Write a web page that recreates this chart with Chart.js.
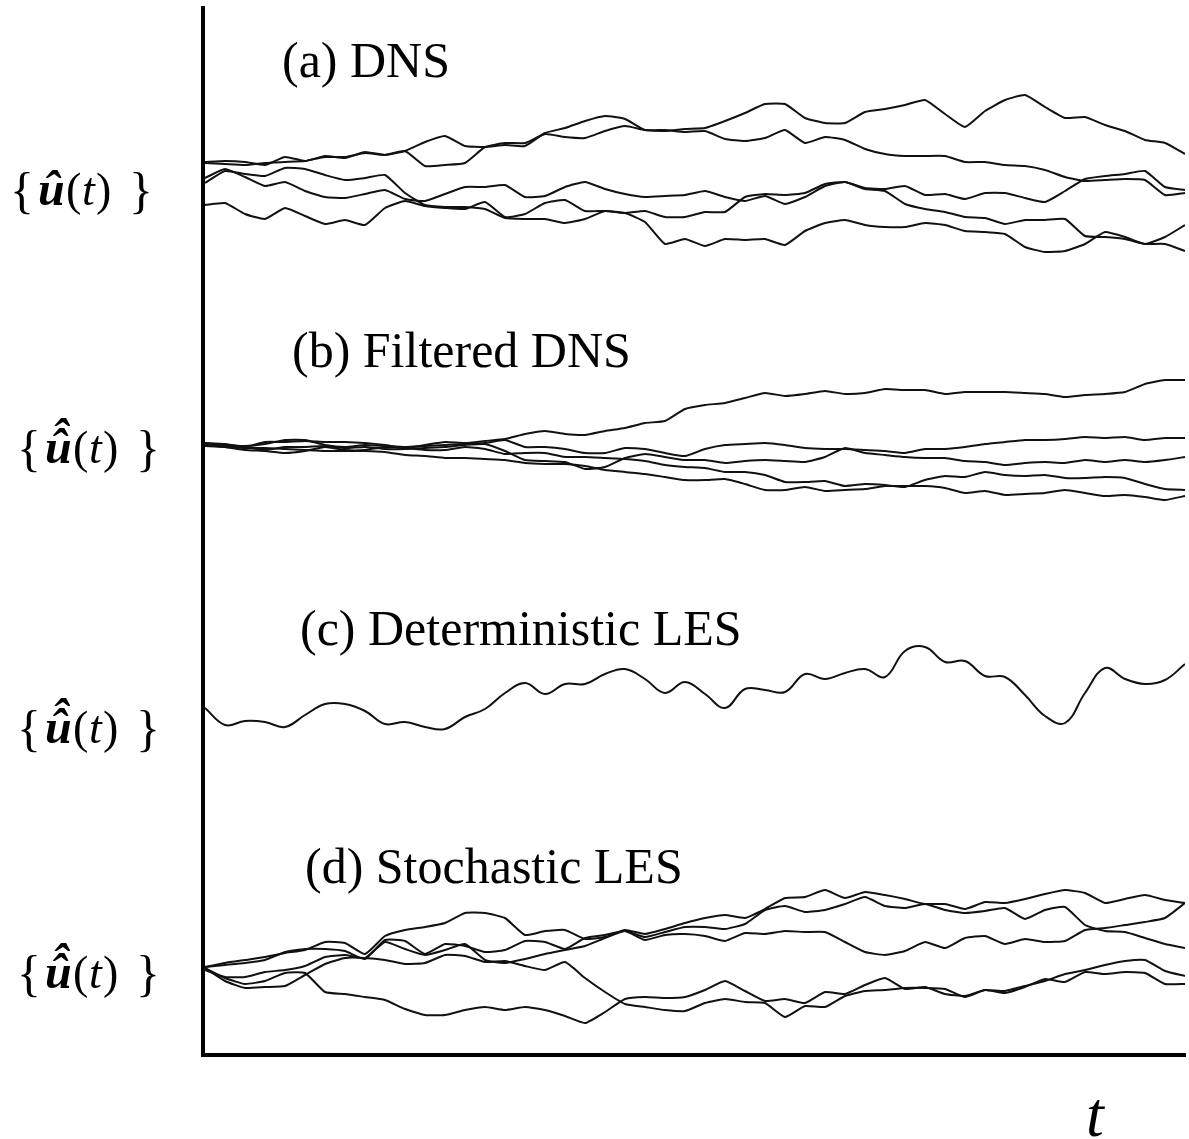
<!DOCTYPE html>
<html lang="en">
<head>
<meta charset="utf-8">
<script src="https://cdn.jsdelivr.net/npm/chart.js"></script>
<style>
    body { margin: 0; background: #ffffff; }
    #traces { display: block; }
</style>
</head>
<body>
<canvas id="traces" width="1189" height="1139"></canvas>
<script>
// sample index along t (same for every trace)
const steps = [0, 1, 2, 3, 4, 5, 6, 7, 8, 9, 10, 11, 12, 13, 14, 15, 16, 17, 18, 19,
    20, 21, 22, 23, 24, 25, 26, 27, 28, 29, 30, 31, 32, 33, 34, 35, 36, 37, 38, 39,
    40, 41, 42, 43, 44, 45, 46, 47, 48, 49];

// (a) DNS realisations
const dns1 = [1.7, 1.6, 1.5, 1.7, 1.8, 1.9, 2.3, 2.3, 2.7, 2.5, 2.9, 1.4, 1.5, 1.7, 3.3, 3.7, 3.7, 4.6, 4.3, 4.2, 4.9, 5.4, 5.0, 4.9, 5.1,
    5.2, 5.9, 6.7, 7.6, 7.6, 6.2, 5.7, 5.7, 6.8, 7.1, 7.5, 8.0, 6.6, 5.3, 6.9, 8.0, 8.5, 7.3, 6.2, 6.3, 5.5, 4.9, 4.0, 3.7, 2.6];
const dns2 = [1.8, 1.9, 1.8, 1.5, 2.3, 1.9, 2.4, 2.2, 2.8, 2.5, 2.9, 3.8, 4.4, 3.4, 3.3, 3.5, 3.4, 4.7, 5.2, 5.9, 6.4, 6.1, 5.0, 5.0, 4.8,
    4.9, 4.1, 3.9, 4.2, 5.0, 3.7, 4.3, 4.0, 3.1, 2.6, 2.4, 2.4, 2.4, 1.8, 1.8, 1.5, 1.4, 1.0, 0.3, -0.1, 0.0, 0.1, 0.0, -1.5, -1.3];
const dns3 = [0.2, 1.1, 0.3, -0.6, -0.2, -1.1, -1.7, -1.8, -1.4, -1.0, -1.9, -2.1, -1.4, -0.7, -0.7, -0.5, -1.7, -1.6, -0.7, -0.2, -0.9, -1.4, -1.7, -1.6, -1.5,
    -1.1, -1.7, -2.1, -1.6, -2.4, -1.7, -0.6, -0.2, -0.8, -0.9, -0.6, -1.5, -1.4, -1.9, -1.3, -1.3, -1.8, -2.2, -1.1, 0.1, 0.4, 0.6, 0.9, -0.7, -1.0];
const dns4 = [-0.3, 0.9, 0.6, 0.4, 1.2, 1.1, 0.5, 0.0, 0.2, 0.5, -1.3, -2.5, -2.7, -2.7, -2.9, -3.8, -3.9, -3.9, -4.3, -3.9, -3.1, -3.3, -3.1, -3.7, -3.7,
    -3.2, -3.2, -1.7, -1.4, -1.5, -1.3, -0.4, -0.2, -0.9, -1.1, -2.4, -2.9, -3.2, -3.7, -3.8, -4.4, -4.0, -4.0, -3.9, -5.6, -5.7, -5.9, -6.4, -6.4, -7.1];
const dns5 = [-2.5, -2.3, -3.4, -3.9, -2.8, -3.6, -4.4, -4.0, -4.5, -2.8, -2.1, -2.6, -2.8, -2.9, -2.2, -3.7, -3.4, -2.3, -2.0, -3.1, -3.1, -3.3, -4.2, -6.4, -5.9,
    -6.6, -5.9, -6.0, -5.9, -6.5, -5.1, -4.3, -4.0, -4.5, -4.7, -4.7, -4.3, -4.5, -5.1, -5.2, -5.4, -6.7, -7.2, -7.1, -6.4, -5.2, -5.7, -6.4, -5.7, -4.5];

// (b) filtered DNS
const filt1 = [0.2, 0.1, -0.2, 0.3, 0.3, 0.4, 0.3, 0.3, 0.2, 0.0, -0.3, 0.0, 0.3, 0.2, 0.4, 0.6, 1.1, 1.4, 1.1, 1.0, 1.4, 1.7, 2.2, 2.4, 3.6,
    4.0, 4.2, 4.7, 5.2, 4.9, 5.1, 5.4, 5.1, 5.2, 5.6, 5.5, 5.5, 5.1, 5.3, 5.3, 5.3, 5.2, 5.1, 4.8, 5.0, 5.1, 5.3, 6.1, 6.5, 6.5];
const filt2 = [0.2, 0.0, -0.1, 0.1, 0.5, 0.5, 0.0, -0.2, 0.0, -0.1, -0.2, -0.1, 0.0, 0.1, 0.2, 0.5, -0.2, -0.2, -0.4, -0.8, -0.8, -0.3, -0.4, -0.8, -1.1,
    -0.4, 0.0, 0.1, 0.2, 0.0, -0.3, -0.4, -0.4, -0.5, -0.6, -0.8, -0.4, -0.4, -0.2, 0.1, 0.3, 0.5, 0.5, 0.6, 0.8, 0.7, 0.8, 0.5, 0.7, 0.7];
const filt3 = [0.0, -0.1, -0.2, -0.5, -0.2, -0.2, -0.1, -0.3, -0.2, -0.4, -0.4, -0.3, -0.2, 0.0, 0.1, -0.6, -1.5, -1.6, -1.7, -2.4, -2.2, -1.3, -0.9, -1.2, -1.5,
    -1.5, -1.8, -1.6, -1.5, -1.6, -1.7, -1.2, -0.3, -0.8, -1.0, -1.2, -1.3, -1.3, -1.6, -1.7, -2.0, -1.8, -1.7, -1.8, -1.5, -1.7, -1.5, -1.7, -1.5, -1.2];
const filt4 = [0.0, -0.2, -0.5, -0.6, -0.8, -0.6, -0.2, -0.5, -0.5, -0.2, -0.3, -0.5, -0.5, -0.2, -0.4, -0.9, -0.8, -0.8, -1.2, -1.2, -1.3, -1.4, -1.6, -2.0, -2.2,
    -2.3, -2.7, -2.7, -3.0, -3.7, -3.7, -3.6, -4.1, -3.9, -4.0, -4.2, -3.5, -3.1, -3.2, -2.7, -3.0, -3.1, -3.0, -3.3, -3.3, -3.2, -3.3, -3.9, -4.4, -4.5];
const filt5 = [-0.1, -0.2, -0.3, -0.3, -0.4, -0.5, -0.6, -0.6, -0.6, -0.7, -1.0, -1.1, -1.3, -1.3, -1.4, -1.5, -1.8, -1.9, -1.9, -2.1, -2.5, -2.7, -2.9, -3.2, -3.5,
    -3.5, -3.4, -3.9, -4.5, -4.5, -4.2, -4.6, -4.5, -4.4, -4.1, -4.1, -4.1, -4.3, -4.8, -4.6, -5.0, -4.9, -4.8, -4.5, -4.8, -5.1, -5.0, -5.2, -5.5, -5.1];

// (c) deterministic LES: a single smooth trajectory
const detLes = [1.7, 0.0, 0.4, 0.3, -0.2, 1.0, 2.1, 2.1, 1.4, 0.1, 0.3, -0.2, -0.4, 0.8, 1.6, 3.2, 4.2, 3.1, 4.1, 4.1, 5.1, 5.6, 4.6, 3.2, 4.3,
    3.1, 1.7, 3.6, 3.5, 3.3, 5.1, 4.6, 5.2, 5.6, 4.8, 7.4, 7.8, 6.3, 6.4, 4.9, 4.8, 3.0, 0.9, 0.2, 3.2, 5.7, 4.6, 4.1, 4.5, 6.1];

// (d) stochastic LES realisations
const sto1 = [0.3, 0.7, 1.0, 1.3, 1.7, 2.0, 2.8, 2.7, 1.6, 3.4, 4.0, 4.3, 4.7, 5.7, 5.7, 5.2, 3.5, 3.9, 4.0, 3.1, 3.3, 4.0, 3.6, 4.1, 4.7,
    5.2, 5.5, 5.2, 6.1, 7.2, 7.3, 8.0, 7.2, 7.8, 7.5, 7.1, 6.6, 6.6, 6.1, 6.8, 6.7, 7.1, 7.6, 8.0, 7.7, 6.7, 7.1, 7.5, 7.0, 6.7];
const sto2 = [0.3, 0.5, 0.7, 1.0, 1.8, 2.1, 2.1, 1.9, 1.1, 3.0, 2.9, 1.6, 2.6, 2.4, 1.8, 2.0, 2.9, 2.8, 2.1, 3.2, 3.5, 3.9, 3.3, 3.8, 4.3,
    4.3, 4.1, 4.6, 6.0, 6.4, 5.8, 6.0, 6.6, 7.3, 6.4, 6.2, 6.6, 6.0, 5.7, 5.9, 6.2, 5.1, 6.0, 6.3, 4.5, 3.9, 3.8, 3.2, 2.6, 2.2];
const sto3 = [0.0, -0.7, -0.7, -0.2, 0.0, 0.4, 1.3, 1.5, 1.2, 2.8, 2.1, 1.5, 2.0, 2.6, 1.0, 0.7, 1.1, 1.6, 2.0, 2.4, 3.2, 3.9, 3.0, 3.5, 3.6,
    3.4, 2.9, 3.7, 3.6, 3.9, 3.8, 3.8, 2.8, 1.8, 1.5, 1.9, 2.8, 2.2, 3.2, 3.4, 2.6, 3.1, 2.8, 2.9, 4.0, 4.2, 4.5, 4.8, 5.2, 6.7];
const sto4 = [0.2, -1.1, -1.8, -1.7, -1.6, -0.5, 0.6, 1.2, 1.2, 1.0, 0.6, 0.7, 1.5, 1.4, 0.8, 0.9, 0.4, 0.0, 0.8, -0.8, -2.2, -3.4, -3.7, -4.0, -4.1,
    -3.3, -2.9, -3.2, -3.3, -4.7, -3.6, -3.7, -2.6, -2.1, -2.0, -1.8, -1.8, -1.9, -2.7, -2.0, -2.3, -1.7, -0.9, -1.2, -0.2, -0.4, -0.2, -0.3, -1.4, -1.4];
const sto5 = [0.2, -0.8, -1.4, -1.1, -0.3, -0.3, -2.2, -2.4, -2.7, -3.0, -3.9, -4.5, -4.5, -4.0, -3.7, -4.0, -3.7, -4.0, -4.6, -5.3, -4.2, -2.9, -2.7, -2.8, -2.7,
    -2.0, -1.1, -2.1, -3.1, -2.9, -3.3, -2.2, -2.4, -1.5, -0.8, -1.9, -1.7, -2.4, -2.6, -2.0, -2.1, -1.6, -1.1, -0.4, 0.0, 0.5, 0.9, 1.0, -0.1, -0.6];

// vertical offset of each panel on the shared y scale
const panelBase = [87.5, 61, 33, 8.5];
const panelTitles = ['(a) DNS', '(b) Filtered DNS', '(c) Deterministic LES', '(d) Stochastic LES'];

const panels = [
    [dns1, dns2, dns3, dns4, dns5],
    [filt1, filt2, filt3, filt4, filt5],
    [detLes],
    [sto1, sto2, sto3, sto4, sto5]
];

const datasets = [];
panels.forEach((traces, p) => {
    traces.forEach(values => {
        datasets.push({
            data: values.map((u, i) => ({ x: steps[i], y: panelBase[p] + u })),
            borderColor: '#111111',
            borderWidth: 2,
            pointRadius: 0,
            fill: false,
            tension: p === 2 ? 0.4 : 0.15
        });
    });
});

const serif = '"Liberation Serif", "Times New Roman", serif';

// { u-hat(t) } label, with a second hat for the filtered quantity
function drawLabel(ctx, x, y, doubleHat) {
    ctx.font = '50px ' + serif;
    ctx.fillText('{', x, y + 2);
    ctx.fillText('}', x + 119, y + 2);
    ctx.font = '46px ' + serif;
    ctx.fillText('(', x + 56, y);
    ctx.fillText(')', x + 86, y);
    ctx.font = 'italic 46px ' + serif;
    ctx.fillText('t', x + 72, y);
    ctx.font = 'bold italic 48px ' + serif;
    ctx.fillText('\u00fb', x + 28, y);
    if (doubleHat) {
        ctx.fillText('\u02c6', x + 35, y - 10);
    }
}

const titlePos = [[282, 77], [292, 367], [300, 645], [305, 883]];
const labelPos = [[10, 205], [17, 463], [17, 743], [17, 988]];

const annotate = {
    id: 'annotate',
    afterDraw(chart) {
        const ctx = chart.ctx;
        ctx.save();
        ctx.fillStyle = '#000000';
        ctx.textBaseline = 'alphabetic';
        ctx.font = '50px ' + serif;
        panelTitles.forEach((txt, i) => ctx.fillText(txt, titlePos[i][0], titlePos[i][1]));
        labelPos.forEach((pos, i) => drawLabel(ctx, pos[0], pos[1], i > 0));
        ctx.font = 'italic 64px ' + serif;
        ctx.fillText('t', 1086, 1136);
        ctx.restore();
    }
};

const bareAxis = {
    ticks: { display: false },
    grid: { display: false, drawTicks: false },
    border: { display: true, color: '#000000', width: 4 }
};

new Chart(document.getElementById('traces').getContext('2d'), {
    type: 'line',
    data: { datasets: datasets },
    options: {
        responsive: false,
        animation: false,
        devicePixelRatio: 1,
        layout: { padding: { left: 203, top: 8, right: 4, bottom: 84 } },
        scales: {
            x: Object.assign({ type: 'linear', min: -0.1, max: 49 }, bareAxis),
            y: Object.assign({ min: 0, max: 104.7 }, bareAxis)
        },
        plugins: {
            legend: { display: false },
            tooltip: { enabled: false }
        }
    },
    plugins: [annotate]
});
</script>
</body>
</html>
